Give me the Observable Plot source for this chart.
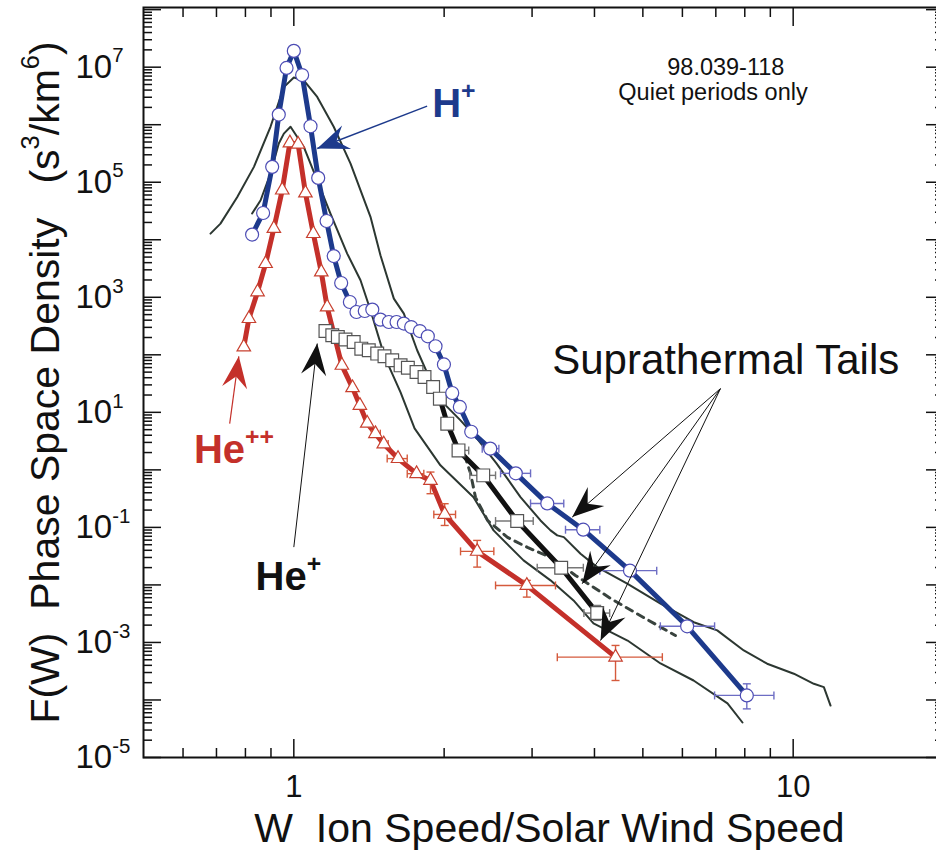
<!DOCTYPE html>
<html>
<head>
<meta charset="utf-8">
<script src="https://cdn.jsdelivr.net/npm/d3@7"></script>
<script src="https://cdn.jsdelivr.net/npm/@observablehq/plot@0.6"></script>
<style>
html, body { margin: 0; padding: 0; background: #fff; overflow: hidden; }
#chart svg { display: block; }
svg text, svg tspan { white-space: pre; }
</style>
</head>
<body>
<div id="chart"></div>
<script>
// ---------------- DATA ----------------
// H+ (blue circles)
const hpW = [0.825, 0.868, 0.905, 0.933, 0.967, 1.0, 1.039, 1.080, 1.119, 1.163, 1.202, 1.244, 1.295, 1.335, 1.387, 1.436, 1.491, 1.550, 1.606, 1.661, 1.718, 1.788, 1.855, 1.922, 1.998, 2.076, 2.150, 2.266, 2.474, 2.783, 3.218, 3.798, 4.712, 6.133, 8.075];
const hpF = [1.23e4, 2.92e4, 1.85e5, 1.50e6, 9.7e6, 1.92e7, 7.3e6, 9.4e5, 1.19e5, 2.12e4, 5.2e3, 1.77e3, 828, 555, 578, 611, 409, 372, 372, 349, 304, 259, 210, 141, 68, 21.7, 12.4, 4.6, 2.34, 0.87, 0.261, 0.0912, 0.0177, 1.91e-3, 1.20e-4];
const hpErrW = [2.474, 2.783, 3.218, 3.798, 4.712, 6.133, 8.075];
const hpErrF = [2.34, 0.87, 0.261, 0.0912, 0.0177, 1.91e-3, 1.20e-4];
const hpErrLo = [2.384, 2.594, 2.979, 3.50, 4.10, 5.42, 6.96];
const hpErrHi = [2.574, 2.979, 3.472, 4.10, 5.33, 6.96, 9.15];
const hpVErrW = [8.075];
const hpVErrLo = [7.0e-5];
const hpVErrHi = [1.91e-4];

// He++ (red triangles)
const heppW = [0.794, 0.813, 0.846, 0.878, 0.912, 0.948, 0.982, 1.020, 1.055, 1.094, 1.135, 1.166, 1.248, 1.311, 1.356, 1.403, 1.457, 1.514, 1.617, 1.761, 1.878, 2.005, 2.329, 2.928, 4.408];
const heppF = [137, 426, 1.24e3, 3.85e3, 1.57e4, 7.3e4, 4.82e5, 4.58e5, 6.5e4, 1.28e4, 2.75e3, 678, 65.6, 26.7, 13.2, 6.44, 4.26, 2.81, 1.57, 0.859, 0.656, 0.168, 0.0383, 9.8e-3, 5.55e-4];
const heppErrW = [1.457, 1.514, 1.617, 1.761, 2.005, 2.329, 2.928, 4.408];
const heppErrF = [4.26, 2.81, 1.57, 0.859, 0.168, 0.0383, 9.8e-3, 5.55e-4];
const heppErrLo = [1.43, 1.49, 1.538, 1.687, 1.907, 2.157, 2.535, 3.37];
const heppErrHi = [1.49, 1.545, 1.687, 1.821, 2.108, 2.515, 3.342, 5.47];
const heppVErrW = [1.878, 2.005, 2.329, 2.928, 4.408];
const heppVErrLo = [0.385, 0.108, 0.0204, 6.14e-3, 2.18e-4];
const heppVErrHi = [0.916, 0.258, 0.0594, 0.012, 8.87e-4];

// He+ (open squares)
const hepW = [1.157, 1.194, 1.225, 1.269, 1.318, 1.365, 1.413, 1.469, 1.519, 1.574, 1.636, 1.692, 1.761, 1.827, 1.901, 1.961, 2.029, 2.137, 2.395, 2.801, 3.431, 4.051];
const hepF = [259, 218, 204, 184, 167, 128, 120, 105, 94.2, 80.2, 65.6, 59.8, 50.2, 41.1, 27.5, 17.3, 6.36, 2.18, 0.802, 0.129, 0.0199, 3.24e-3];
const hepTailStartW = 1.9;
const hepErrW = [2.137, 2.395, 2.801, 3.431, 4.051];
const hepErrF = [2.18, 0.802, 0.129, 0.0199, 3.24e-3];
const hepErrLo = [2.086, 2.251, 2.535, 3.072, 3.81];
const hepErrHi = [2.24, 2.535, 3.016, 3.80, 4.29];
const hepVErrW = [4.051];
const hepVErrLo = [2.42e-3];
const hepVErrHi = [4.40e-3];

// dashed curve
const dashW = [2.198, 2.259, 2.311, 2.443, 2.679, 2.937, 3.266, 3.665, 4.308, 5.015, 5.81];
const dashF = [1.79, 0.869, 0.333, 0.1324, 0.067, 0.0449, 0.0301, 0.01462, 5.82e-3, 2.72e-3, 1.32e-3];

// thin model curves
const modelAW = [0.681, 0.713, 0.770, 0.832, 0.898, 0.955, 1.0, 1.047, 1.114, 1.202, 1.299, 1.424, 1.491, 1.586, 1.661, 1.766, 1.878, 1.998, 2.157, 2.343, 2.546, 2.844, 3.119, 3.266, 3.369, 3.473, 3.751, 4.051, 4.652, 5.424, 6.324, 7.045, 7.963, 8.869, 10.03, 11.0, 11.52, 11.88];
const modelAF = [1.28e4, 1.91e4, 5.5e4, 1.85e5, 9.2e5, 4.5e6, 6.6e6, 5.9e6, 3.04e6, 9.2e5, 2.11e5, 2.5e4, 5.37e3, 948, 521, 120, 36, 14.2, 7.26, 3.26, 1.30, 0.336, 0.132, 0.0887, 0.0726, 0.0678, 0.0349, 0.0204, 0.0105, 4.71e-3, 2.25e-3, 1.62e-3, 7.26e-4, 4.27e-4, 2.86e-4, 1.91e-4, 1.67e-4, 8.0e-5];
const modelBW = [0.825, 0.858, 0.898, 0.933, 0.955, 0.985, 1.047, 1.114, 1.184, 1.279, 1.360, 1.424, 1.519, 1.636, 1.745, 1.966, 2.290, 2.512, 2.884, 3.266, 3.632, 3.982, 4.659, 5.424, 6.317, 7.387, 7.915];
const modelBF = [2.86e4, 4.86e4, 1.42e5, 4.71e5, 7.0e5, 9.2e5, 4.1e5, 1.08e5, 2.86e4, 5.75e3, 1.98e3, 594, 94, 22.3, 5.27, 1.2, 0.333, 0.0887, 0.0267, 0.012, 5.37e-3, 2.14e-3, 1.08e-3, 4.31e-4, 2.18e-4, 8.7e-5, 4.06e-5];

// annotation arrows
const arrowFromW = [1.849, 0.744, 1.0, 7.15, 7.15, 7.15];
const arrowFromF = [2.1e6, 6.35, 0.0454, 25.8, 25.8, 25.8];
const arrowToW = [1.114, 0.776, 1.114, 3.61, 3.78, 4.114];
const arrowToF = [3.86e5, 94, 157, 0.151, 0.0105, 1.08e-3];

// annotation labels
const labelText = ["H^{+}", "He^{++}", "He^{+}", "Suprathermal Tails", "98.039-118", "Quiet periods only"];
const labelW = [1.893, 0.631, 0.838, 3.292, 7.33, 6.91];
const labelF = [1.35e6, 1.31, 8.0e-3, 47.1, 7.26e6, 2.74e6];

// axes
const xTickValues = [1, 10];
const xTickLabels = ["1", "10"];
const xMinorMultiples = [2, 3, 4, 5, 6, 7, 8, 9];
const yTickValues = [1e7, 1e5, 1e3, 1e1, 1e-1, 1e-3, 1e-5];
const yTickLabels = ["10^{7}", "10^{5}", "10^{3}", "10^{1}", "10^{-1}", "10^{-3}", "10^{-5}"];
const xLabel = "W\u00a0\u00a0Ion Speed/Solar Wind Speed";
const yLabel = "F(W)\u00a0\u00a0Phase Space Density\u00a0\u00a0\u00a0(s^{3}/km^{6})";

// ---------------- LAYOUT / STYLE ----------------
const WIDTH = 936, HEIGHT = 856;
const mL = 143, mR = -7, mT = 7, mB = 99;
const xDomain = [0.5, 20], yDomain = [1e-5, 1.09e8];
const BLUE = "#1d3a8c", RED = "#c4302a", DARK = "#2c3731", BLACK = "#111";
const FONT = "'Liberation Sans', Arial, Helvetica, sans-serif";

const xs = d3.scaleLog(xDomain, [mL, WIDTH - mR]);
const ys = d3.scaleLog(yDomain, [HEIGHT - mB, mT]);

const zip = (W, F) => W.map((w, i) => ({W: w, F: F[i]}));
const bars = (W, F, lo, hi) => W.map((w, i) => ({W: w, F: F[i], lo: lo[i], hi: hi[i]}));

const hPlus = zip(hpW, hpF);
const hepp = zip(heppW, heppF);
const hep = zip(hepW, hepF);
const hepTail = hep.filter(d => d.W >= hepTailStartW);
const dashed = zip(dashW, dashF);
const modelA = zip(modelAW, modelAF);
const modelB = zip(modelBW, modelBF);

// ticks
const decades = d3.range(-5, 9).map(e => Math.pow(10, e));
const yMinor = [];
for (const d of decades) for (const m of xMinorMultiples) { const v = d * m; if (v < yDomain[1]) yMinor.push(v); }
const xMinor = [];
for (const d of [0.1, 1, 10]) for (const m of xMinorMultiples) { const v = d * m; if (v > xDomain[0] && v < xDomain[1] && v !== 1 && v !== 10) xMinor.push(v); }

const vcap = {draw(ctx, size) { const r = Math.sqrt(size / Math.PI); ctx.moveTo(0, -r); ctx.lineTo(0, r); }};
const hcap = {draw(ctx, size) { const r = Math.sqrt(size / Math.PI); ctx.moveTo(-r, 0); ctx.lineTo(r, 0); }};
const headShape = {draw(ctx, l) {
  ctx.moveTo(0, -l);
  ctx.lineTo(l * 0.42, l * 0.05);
  ctx.lineTo(0, -l * 0.32);
  ctx.lineTo(-l * 0.42, l * 0.05);
  ctx.closePath();
}};

function errorMarks(hb, vb, color) {
  const out = [];
  if (hb) {
    out.push(Plot.link(hb, {x1: "lo", x2: "hi", y1: "F", y2: "F", stroke: color, strokeWidth: 1.4}));
    out.push(Plot.dot(hb, {x: "lo", y: "F", symbol: vcap, r: 4, stroke: color, strokeWidth: 1.4, fill: "none"}));
    out.push(Plot.dot(hb, {x: "hi", y: "F", symbol: vcap, r: 4, stroke: color, strokeWidth: 1.4, fill: "none"}));
  }
  if (vb) {
    out.push(Plot.link(vb, {x1: "W", x2: "W", y1: "lo", y2: "hi", stroke: color, strokeWidth: 1.4}));
    out.push(Plot.dot(vb, {x: "W", y: "lo", symbol: hcap, r: 4, stroke: color, strokeWidth: 1.4, fill: "none"}));
    out.push(Plot.dot(vb, {x: "W", y: "hi", symbol: hcap, r: 4, stroke: color, strokeWidth: 1.4, fill: "none"}));
  }
  return out;
}

const arrowColors = [BLUE, RED, BLACK, BLACK, BLACK, BLACK];
const arrowWidths = [1.5, 1.2, 1, 1, 1, 1];
const arrowMarks = [];
arrowFromW.forEach((w, i) => {
  const d = {x1: w, y1: arrowFromF[i], x2: arrowToW[i], y2: arrowToF[i]};
  const dxp = xs(d.x2) - xs(d.x1), dyp = ys(d.y2) - ys(d.y1);
  const angle = Math.atan2(dxp, -dyp) * 180 / Math.PI;
  arrowMarks.push(Plot.link([d], {x1: "x1", y1: "y1", x2: "x2", y2: "y2", stroke: arrowColors[i], strokeWidth: arrowWidths[i]}));
  arrowMarks.push(Plot.vector([d], {x: "x2", y: "y2", rotate: angle, length: 30, anchor: "end", shape: headShape, fill: arrowColors[i], stroke: "none"}));
});

const labelStyles = [
  {fill: BLUE, fontSize: 40, fontWeight: "bold", textAnchor: "start"},
  {fill: RED, fontSize: 40, fontWeight: "bold", textAnchor: "start"},
  {fill: BLACK, fontSize: 40, fontWeight: "bold", textAnchor: "start"},
  {fill: BLACK, fontSize: 42, fontWeight: "normal", textAnchor: "start"},
  {fill: BLACK, fontSize: 23.5, fontWeight: "normal", textAnchor: "middle"},
  {fill: BLACK, fontSize: 23.5, fontWeight: "normal", textAnchor: "middle"}
];
const labelMarks = labelText.map((t, i) => Plot.text([{W: labelW[i], F: labelF[i], t}], {
  x: "W", y: "F", text: "t", lineAnchor: "bottom", fontFamily: FONT, ...labelStyles[i]
}));

const tickCommon = {stroke: BLACK, strokeWidth: 1.5, fill: null, label: null};

const svg = Plot.plot({
  width: WIDTH, height: HEIGHT,
  marginLeft: mL, marginRight: mR, marginTop: mT, marginBottom: mB,
  style: {fontFamily: FONT, background: "white", color: BLACK},
  x: {type: "log", domain: xDomain},
  y: {type: "log", domain: yDomain},
  marks: [
    // ticks (inward)
    Plot.axisX({anchor: "bottom", ticks: xTickValues, tickSize: -18, ...tickCommon}),
    Plot.axisX({anchor: "bottom", ticks: xMinor, tickSize: -9, ...tickCommon}),
    Plot.axisX({anchor: "top", ticks: xTickValues, tickSize: -18, ...tickCommon}),
    Plot.axisX({anchor: "top", ticks: xMinor, tickSize: -9, ...tickCommon}),
    Plot.axisY({anchor: "left", ticks: decades, tickSize: -18, ...tickCommon}),
    Plot.axisY({anchor: "left", ticks: yMinor, tickSize: -9, ...tickCommon}),
    Plot.axisY({anchor: "right", ticks: decades, tickSize: -18, ...tickCommon}),
    Plot.axisY({anchor: "right", ticks: yMinor, tickSize: -9, ...tickCommon}),
    // tick labels
    Plot.axisX({anchor: "bottom", ticks: xTickValues, tickSize: 0, tickPadding: 17, fontSize: 31,
      tickFormat: d => xTickLabels[xTickValues.indexOf(d)], label: null, fill: BLACK}),
    Plot.axisY({anchor: "left", ticks: yTickValues, tickSize: 0, tickPadding: 68, textAnchor: "start", fontSize: 33,
      tickFormat: d => yTickLabels[yTickValues.indexOf(d)], label: null, fill: BLACK}),
    // axis titles
    Plot.text([xLabel], {frameAnchor: "bottom", text: d => d, textAnchor: "middle", dx: 6, dy: 84, lineAnchor: "bottom", fontSize: 41, fill: BLACK}),
    Plot.text([yLabel], {frameAnchor: "left", text: d => d, textAnchor: "middle", rotate: -90, dx: -85, lineAnchor: "bottom", fontSize: 41, fill: BLACK}),
    Plot.frame({stroke: BLACK, strokeWidth: 2}),
    // model curves
    Plot.line(modelA, {x: "W", y: "F", stroke: DARK, strokeWidth: 2}),
    Plot.line(modelB, {x: "W", y: "F", stroke: DARK, strokeWidth: 2}),
    Plot.line(dashed, {x: "W", y: "F", stroke: "#39433e", strokeWidth: 3, strokeDasharray: "7,6"}),
    // data lines
    Plot.line(hepTail, {x: "W", y: "F", stroke: BLACK, strokeWidth: 5}),
    Plot.line(hepp, {x: "W", y: "F", stroke: RED, strokeWidth: 5}),
    Plot.line(hPlus, {x: "W", y: "F", stroke: BLUE, strokeWidth: 5}),
    // error bars
    ...errorMarks(bars(hpErrW, hpErrF, hpErrLo, hpErrHi), bars(hpVErrW, hpVErrW.map(w => hpF[hpW.indexOf(w)]), hpVErrLo, hpVErrHi), "#6d6dc4"),
    ...errorMarks(bars(heppErrW, heppErrF, heppErrLo, heppErrHi), bars(heppVErrW, heppVErrW.map(w => heppF[heppW.indexOf(w)]), heppVErrLo, heppVErrHi), "#d55a3c"),
    ...errorMarks(bars(hepErrW, hepErrF, hepErrLo, hepErrHi), bars(hepVErrW, hepVErrW.map(w => hepF[hepW.indexOf(w)]), hepVErrLo, hepVErrHi), "#777"),
    // symbols
    Plot.dot(hep, {x: "W", y: "F", symbol: "square", r: 7.2, fill: "white", stroke: "#555", strokeWidth: 1.2}),
    Plot.dot(hepp, {x: "W", y: "F", symbol: "triangle", r: 5, fill: "white", stroke: "#c8402f", strokeWidth: 1.2}),
    Plot.dot(hPlus, {x: "W", y: "F", r: 6.5, fill: "white", stroke: "#4c4cb4", strokeWidth: 1.2}),
    // annotations
    ...arrowMarks,
    ...labelMarks
  ]
});

// superscripts: "^{...}" -> raised tspan
const SVGNS = "http://www.w3.org/2000/svg";
function supify(el) {
  const s = el.textContent;
  if (!s || s.indexOf("^{") < 0) return;
  const parts = s.split(/(\^\{[^}]*\})/).filter(p => p.length);
  while (el.firstChild) el.removeChild(el.firstChild);
  let raised = false;
  for (const p of parts) {
    const t = document.createElementNS(SVGNS, "tspan");
    if (p.startsWith("^{")) {
      t.textContent = p.slice(2, -1);
      t.setAttribute("font-size", "62%");
      if (!raised) t.setAttribute("dy", "-0.75em");
      raised = true;
    } else {
      t.textContent = p;
      if (raised) t.setAttribute("dy", "0.465em");
      raised = false;
    }
    el.appendChild(t);
  }
}
svg.querySelectorAll("text").forEach(supify);

document.getElementById("chart").appendChild(svg);
</script>
</body>
</html>
